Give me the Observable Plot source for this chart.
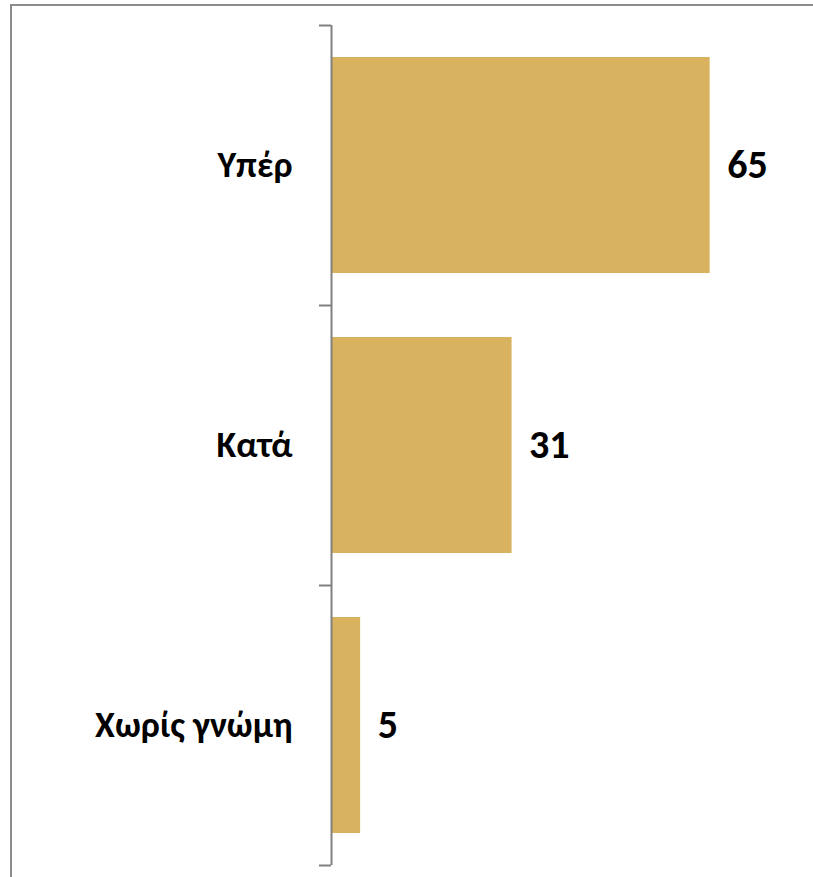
<!DOCTYPE html>
<html>
<head>
<meta charset="utf-8">
<script src="https://cdn.jsdelivr.net/npm/d3@7"></script>
<script src="https://cdn.jsdelivr.net/npm/@observablehq/plot@0.6"></script>
<style>
  html, body { margin: 0; padding: 0; background: #fff; overflow: hidden; }
  #wrap { position: relative; width: 813px; height: 877px; }
  #frame { position: absolute; left: 10px; top: 4px; width: 900px; height: 1000px;
           border: 2px solid #8c8c8c; pointer-events: none; box-sizing: border-box; }
  #chart svg { display: block; }
</style>
</head>
<body>
<div id="wrap"><div id="chart"></div><div id="frame"></div></div>
<script>
const categories = ["Υπέρ", "Κατά", "Χωρίς γνώμη"];
const values = [65, 31, 5];

const rows = categories.map((c, i) => ({cat: c, value: values[i]}));

const W = 813, H = 877, mTop = 25, mBottom = 12, mLeft = 331, mRight = 16;
const half = (H - mTop - mBottom) / categories.length / 2;
const font = "Calibri, Carlito, Lato, 'Open Sans', sans-serif";

const chart = Plot.plot({
  width: W,
  height: H,
  marginTop: mTop,
  marginBottom: mBottom,
  marginLeft: mLeft,
  marginRight: mRight,
  style: {fontFamily: font, background: "transparent", color: "#000"},
  x: {domain: [0, 80], axis: null},
  y: {domain: categories, axis: null, paddingInner: 0.23, paddingOuter: 0.115},
  marks: [
    Plot.barX(rows, {x: "value", y: "cat", fill: "#D8B25F"}),
    Plot.ruleX([0], {stroke: "#808080", strokeWidth: 2}),
    Plot.ruleY(categories, {y: d => d, x1: 0, x2: 0, insetLeft: -12, dy: -half, stroke: "#808080", strokeWidth: 2}),
    Plot.ruleY([categories[categories.length - 1]], {y: d => d, x1: 0, x2: 0, insetLeft: -12, dy: half, stroke: "#808080", strokeWidth: 2}),
    Plot.text(categories, {y: d => d, x: 0, text: d => d, textAnchor: "end", dx: -39, fontSize: 36, fontWeight: "bold", fill: "#000"}),
    Plot.text(rows, {x: "value", y: "cat", text: d => String(d.value), textAnchor: "start", dx: 17, fontSize: 40, fontWeight: "bold", fill: "#000"})
  ]
});
document.getElementById("chart").appendChild(chart);
</script>
</body>
</html>
